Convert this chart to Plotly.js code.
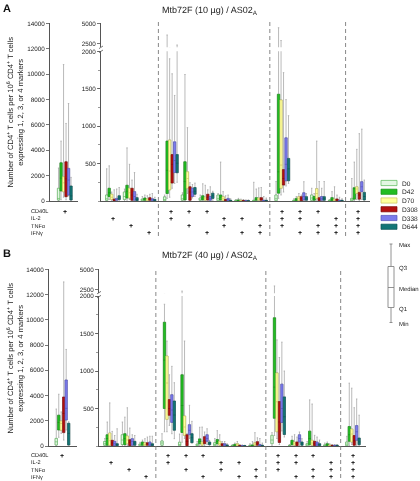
<!DOCTYPE html>
<html><head><meta charset="utf-8">
<script src="https://cdn.plot.ly/plotly-3.0.1.min.js"></script>
<style>body{margin:0;background:#fff}#chart{width:420px;height:481px}
#chart text{filter:grayscale(1);text-rendering:geometricPrecision}</style>
</head><body><div id="chart"></div>
<script>
// ---------- data ----------
const timepoints = ['D0','D42','D70','D308','D338','D644'];
const markers = ['CD40L','IL-2','TNFα','IFNγ'];
// marker combination of each group (indices into markers)
const combos = [[0],[1],[2],[3],[0,1],[0,2],[0,3],[1,2],[1,3],[2,3],[0,1,2],[0,1,3],[0,2,3],[1,2,3],[0,1,2,3]];
const titles = ['Mtb72F (10 µg) / AS02<sub>A</sub>', 'Mtb72F (40 µg) / AS02<sub>A</sub>'];
const panelLetters = ['A','B'];
const keyLabels = ['Max','Q3','Median','Q1','Min'];
const leftTicks = [0,2000,4000,6000,8000,10000,12000,14000];
const lowTicks = [500,1000,1500,2000];
const highTicks = [2500,5000];

// rows per group: [min, q1, median, q3, max]   --- panel A (10 µg)
const A_D0 = [[0,80,200,1000,2600],[0,10,30,80,430],[0,20,60,120,160],[0,5,15,25,60],[0,5,20,55,80],[0,10,30,80,110],[0,10,20,40,80],[0,5,30,80,100],[0,0,5,10,20],[0,2,5,10,250],[0,5,30,80,260],[0,2,5,10,30],[0,10,40,80,170],[0,2,5,10,20],[0,3,10,35,300]];
const A_D42 = [[100,790,1800,3010,4720],[20,60,110,170,470],[10,40,130,210,710],[0,10,25,40,80],[35,100,410,800,3540],[0,15,260,524,1690],[0,15,40,70,230],[0,13,50,80,520],[0,2,5,15,35],[0,10,25,45,160],[35,105,390,1426,4450],[0,5,15,35,60],[0,10,30,60,100],[0,5,20,45,125],[0,25,165,178,520]];
const A_D70 = [[300,730,1430,1910,10750],[0,20,50,90,120],[20,40,110,170,490],[0,5,15,30,70],[50,150,400,815,1900],[100,170,300,390,980],[0,10,30,50,210],[0,5,30,58,125],[0,2,5,10,25],[0,10,25,40,175],[80,170,480,1350,2850],[0,5,30,58,100],[10,35,100,165,800],[0,5,10,25,190],[20,100,160,190,690]];
const A_D308 = [[100,340,1750,3090,6110],[0,5,10,25,150],[0,10,80,170,280],[0,10,25,45,90],[170,240,490,620,1700],[0,10,120,190,245],[0,13,50,90,150],[0,3,10,20,70],[0,0,3,8,20],[0,10,25,45,180],[120,213,300,420,1715],[0,5,30,58,80],[0,5,20,45,260],[0,3,10,27,80],[0,25,80,115,900]];
const A_D338 = [[400,470,1650,2570,7680],[0,10,20,35,160],[0,10,60,125,380],[0,5,15,30,100],[235,380,540,790,1410],[40,60,120,170,220],[0,10,30,60,190],[0,5,15,35,80],[0,0,2,5,15],[0,2,5,10,60],[200,270,490,844,1355],[0,13,60,110,258],[0,10,30,60,170],[0,2,5,10,50],[20,125,190,258,960]];
const A_D644 = [[0,80,400,1180,1860],[0,20,40,70,180],[0,5,20,45,90],[0,5,10,20,50],[250,378,505,620,2290],[60,90,130,180,240],[10,35,70,105,130],[0,2,5,10,30],[0,0,2,5,15],[0,2,5,10,40],[235,271,430,569,1140],[0,10,30,58,100],[0,10,30,58,260],[0,2,5,10,30],[0,15,60,115,280]];
// panel B (40 µg)
const B_D0 = [[50,80,330,600,2930],[0,10,30,60,100],[0,20,80,150,320],[0,5,15,25,50],[0,10,40,67,164],[0,5,20,50,160],[0,5,15,25,60],[0,5,20,44,100],[0,0,3,8,20],[0,2,5,10,30],[0,31,80,142,178],[0,2,5,10,20],[0,2,10,31,60],[0,2,5,15,40],[0,5,25,53,129]];
const B_D42 = [[690,1270,1870,2440,4100],[0,10,100,150,320],[0,18,100,164,385],[0,10,30,53,80],[190,500,1145,1650,1890],[50,180,540,950,2280],[0,31,60,95,250],[0,31,60,86,205],[0,3,8,22,40],[0,2,5,15,60],[140,370,785,1710,2920],[0,18,40,76,130],[0,18,100,198,615],[0,5,15,31,53],[0,62,150,260,838]];
const B_D70 = [[1000,1250,1790,1980,2700],[0,10,70,173,575],[0,31,80,133,510],[0,5,20,44,98],[190,355,840,1200,1400],[100,142,253,400,1400],[0,10,30,53,253],[0,10,30,62,150],[0,5,10,31,60],[0,10,25,44,178],[100,190,590,975,1415],[0,10,30,53,151],[0,9,40,76,560],[0,2,5,15,30],[20,53,160,226,771]];
const B_D308 = [[470,1060,2580,3880,13000],[0,5,40,76,195],[0,5,50,84,240],[0,10,30,44,120],[275,409,500,620,950],[0,5,60,151,165],[0,31,70,125,187],[0,5,15,31,60],[0,0,3,8,20],[0,10,30,58,110],[20,47,320,593,1180],[0,5,30,53,120],[0,5,30,62,142],[0,2,5,10,20],[0,10,70,140,511]];
const B_D338 = [[1270,2060,2980,5230,7650],[0,5,30,62,140],[0,10,60,98,150],[0,5,25,53,130],[164,315,480,684,1062],[100,151,209,284,542],[20,62,100,150,230],[0,5,15,31,60],[0,0,2,5,15],[0,2,8,20,100],[200,313,500,825,1385],[0,53,100,150,187],[0,5,25,53,120],[0,2,5,10,20],[10,76,190,272,627]];
const B_D644 = [[0,80,1000,1800,1920],[0,5,20,31,230],[0,10,40,62,140],[0,5,15,30,130],[98,210,413,600,844],[40,44,111,164,329],[0,18,30,53,75],[0,2,5,15,30],[0,0,2,5,10],[0,2,5,10,40],[120,153,390,655,1000],[0,10,30,53,98],[0,5,15,31,80],[0,2,5,10,20],[0,18,55,106,411]];

// ---------- styles ----------
const fills = ['#e3f7e3','#22bd22','#ffff9c','#b30f0f','#7b7bec','#137676'];
const edges = ['#58b858','#148c14','#c8c25c','#7d0a0a','#5353b9','#0c5353'];
const whiskerColor = '#a8a8a8';
const FONT = 'Arial, "Liberation Sans", sans-serif';
const W = 420, H = 481;
const px = x => x / W, py = y => 1 - y / H;

// group positions on the right axis (gap after each block of the same marker count)
function groupPos(i) {
  let sep = 0;
  for (let j = 1; j < i; j++) if (combos[j].length !== combos[j+1].length) sep++;
  return (i - 1) + 0.25 * sep;
}
const rightIdx = combos.map((c, i) => i).filter(i => i > 0);
const sepPos = [];
for (let j = 1; j < combos.length - 1; j++) if (combos[j].length !== combos[j+1].length) sepPos.push(groupPos(j) + 0.55);

const panels = [
  {data:[A_D0,A_D42,A_D70,A_D308,A_D338,A_D644], xL:'x', yL:'y', xR:'x2', yLo:'y2', yUp:'y3',
   xLd:[50,78], xLr:[-0.832,0.742], yLd:[201,23.3], xRd:[101,370], xRr:[-0.67,14.42], yLod:[201,51.3], yUpd:[47.3,23.3],
   rows:[211,218,225.5,232.5], rowLab:[211,218.3,225.8,233.2], dash:[22,238], letterY:8, titleY:10, ytitleY:112},
  {data:[B_D0,B_D42,B_D70,B_D308,B_D338,B_D644], xL:'x4', yL:'y4', xR:'x5', yLo:'y5', yUp:'y6',
   xLd:[49,77], xLr:[-0.76,0.82], yLd:[446,269.3], xRd:[99,366], xRr:[-0.68,14.49], yLod:[446,296], yUpd:[293.3,269.3],
   rows:[455,462,469.5,476.5], rowLab:[455,462.3,470,477.3], dash:[271,481], letterY:253, titleY:255, ytitleY:358}
];

const traces = [], boxTraces = [];
const layout = {
  width: W, height: H, margin:{l:0,r:0,t:0,b:0}, paper_bgcolor:'#fff', plot_bgcolor:'rgba(0,0,0,0)',
  showlegend:false, boxmode:'overlay', font:{family:FONT, size:6.3, color:'#222'},
  shapes:[], annotations:[]
};
const axName = a => a.replace('x','xaxis').replace('y','yaxis');
function xAxis(dom, rng, anchor) {
  return {domain:[px(dom[0]),px(dom[1])], range:rng, anchor, showline:true, linecolor:'#555', linewidth:1,
    showticklabels:false, ticks:'', showgrid:false, zeroline:false, fixedrange:true};
}
function yAxis(dom, rng, anchor, vals, minor) {
  const a = {domain:[py(dom[0]),py(dom[1])], range:rng, anchor, showline:true, linecolor:'#555', linewidth:1,
    tickmode:'array', tickvals:vals, ticktext:vals.map(String), ticks:'outside', ticklen:3, tickwidth:0.8, tickcolor:'#555',
    tickfont:{size:6.3, color:'#222'}, showgrid:false, zeroline:false, fixedrange:true};
  if (minor) a.minor = {dtick:250, tick0:0, ticks:'outside', ticklen:1.8, tickcolor:'#555', tickwidth:0.6, showgrid:false};
  return a;
}

panels.forEach((P, pi) => {
  layout[axName(P.xL)] = xAxis(P.xLd, P.xLr, P.yL);
  layout[axName(P.yL)] = yAxis(P.yLd, [0,14000], P.xL, leftTicks, false);
  layout[axName(P.xR)] = xAxis(P.xRd, P.xRr, P.yLo);
  layout[axName(P.yLo)] = yAxis(P.yLod, [0,2000], P.xR, lowTicks, true);
  layout[axName(P.yUp)] = yAxis(P.yUpd, [2000,5000], P.xR, highTicks, false);

  P.data.forEach((rows, k) => {
    const off = (k - 2.5) * 0.14;
    const segs = [
      {xa:P.xL, ya:P.yL, idx:[0], pos:[0]},
      {xa:P.xR, ya:P.yLo, idx:rightIdx, pos:rightIdx.map(groupPos)},
      {xa:P.xR, ya:P.yUp, idx:rightIdx, pos:rightIdx.map(groupPos)}
    ];
    segs.forEach(s => {
      const rs = s.idx.map(i => rows[i]);
      const x = s.pos.map(p => p + off);
      const common = {type:'box', orientation:'v', xaxis:s.xa, yaxis:s.ya, x, width:0.13, boxpoints:false,
        showlegend:false, hoverinfo:'skip', q1:rs.map(r=>r[1]), median:rs.map(r=>r[2]), q3:rs.map(r=>r[3])};
      traces.push(Object.assign({}, common, {lowerfence:rs.map(r=>r[0]), upperfence:rs.map(r=>r[4]),
        whiskerwidth:0.6, fillcolor:'rgba(0,0,0,0)', line:{color:whiskerColor, width:0.8}}));
      boxTraces.push(Object.assign({}, common, {lowerfence:rs.map(r=>r[1]), upperfence:rs.map(r=>r[3]),
        whiskerwidth:0, fillcolor:fills[k], line:{color:edges[k], width:0.6}}));
    });
  });

  // dashed separators
  sepPos.forEach(s => layout.shapes.push({type:'line', xref:P.xR, yref:'paper', x0:s, x1:s,
    y0:py(P.dash[0]), y1:py(P.dash[1]), line:{color:'#7a7a7a', width:0.9, dash:'4px,3px'}}));
  // axis break marks
  const bx = P.xRd[0], by = (P.yLod[1] + P.yUpd[0]) / 2;
  [-2, 2].forEach(d => layout.shapes.push({type:'line', xref:'paper', yref:'paper',
    x0:px(bx-2), x1:px(bx+2), y0:py(by+d+1.3), y1:py(by+d-1.3), line:{color:'#555', width:0.8}}));

  // marker rows
  markers.forEach((m, r) => {
    layout.annotations.push({text:m, xref:'paper', yref:'paper', x:px(29), y:py(P.rowLab[r]), xanchor:'left', yanchor:'middle',
      showarrow:false, font:{size:5.6, color:'#222'}});
  });
  combos.forEach((c, g) => {
    c.forEach(r => layout.annotations.push({text:'<b>+</b>', xref: g === 0 ? P.xL : P.xR, yref:'paper',
      x: g === 0 ? 0 : groupPos(g), y:py(P.rows[r]), xanchor:'center', yanchor:'middle', showarrow:false,
      font:{size:7, color:'#000', family:FONT}}));
  });

  // titles and letters
  layout.annotations.push({text:'<b>'+panelLetters[pi]+'</b>', xref:'paper', yref:'paper', x:px(0.5), y:py(P.letterY),
    xanchor:'left', yanchor:'middle', showarrow:false, font:{size:11, color:'#111'}});
  layout.annotations.push({text:titles[pi], xref:'paper', yref:'paper', x:px(210), y:py(P.titleY),
    xanchor:'center', yanchor:'middle', showarrow:false, font:{size:9, color:'#222'}});
  layout.annotations.push({text:'Number of CD4<sup>+</sup> T cells per 10<sup>6</sup> CD4<sup>+</sup> T cells<br>expressing 1, 2, 3, or 4 markers',
    xref:'paper', yref:'paper', x:px(14.5), y:py(P.ytitleY), textangle:-90, xanchor:'center', yanchor:'middle',
    showarrow:false, font:{size:7.6, color:'#222'}});
});

// legend (panel A)
timepoints.forEach((t, k) => {
  const yc = 183 + k * 8.75;
  layout.shapes.push({type:'rect', xref:'paper', yref:'paper', x0:px(381), x1:px(397), y0:py(yc+2.6), y1:py(yc-2.6),
    fillcolor:fills[k], line:{color:edges[k], width:0.7}});
  layout.annotations.push({text:t, xref:'paper', yref:'paper', x:px(400), y:py(yc), xanchor:'left', yanchor:'middle',
    showarrow:false, font:{size:6.6, color:'#222'}});
});

// box-plot key (panel B)
const kx = 391, kYs = [244, 266.5, 287.5, 307.5, 322.5];
const kl = {color:'#777', width:0.8};
layout.shapes.push({type:'line', xref:'paper', yref:'paper', x0:px(kx), x1:px(kx), y0:py(kYs[0]), y1:py(kYs[1]), line:kl});
layout.shapes.push({type:'line', xref:'paper', yref:'paper', x0:px(kx), x1:px(kx), y0:py(kYs[3]), y1:py(kYs[4]), line:kl});
layout.shapes.push({type:'line', xref:'paper', yref:'paper', x0:px(kx-1.5), x1:px(kx+1.5), y0:py(kYs[0]), y1:py(kYs[0]), line:kl});
layout.shapes.push({type:'line', xref:'paper', yref:'paper', x0:px(kx-1.5), x1:px(kx+1.5), y0:py(kYs[4]), y1:py(kYs[4]), line:kl});
layout.shapes.push({type:'rect', xref:'paper', yref:'paper', x0:px(kx-3), x1:px(kx+3), y0:py(kYs[3]), y1:py(kYs[1]),
  fillcolor:'#fff', line:kl});
layout.shapes.push({type:'line', xref:'paper', yref:'paper', x0:px(kx-3), x1:px(kx+3), y0:py(kYs[2]), y1:py(kYs[2]), line:kl});
keyLabels.forEach((t, i) => layout.annotations.push({text:t, xref:'paper', yref:'paper', x:px(396.5), y:py(kYs[i]+1),
  xanchor:'left', yanchor:'middle', showarrow:false, font:{size:6, color:'#222'}}));

Plotly.newPlot('chart', traces.concat(boxTraces), layout, {staticPlot:true, displayModeBar:false});
</script>
</body></html>
